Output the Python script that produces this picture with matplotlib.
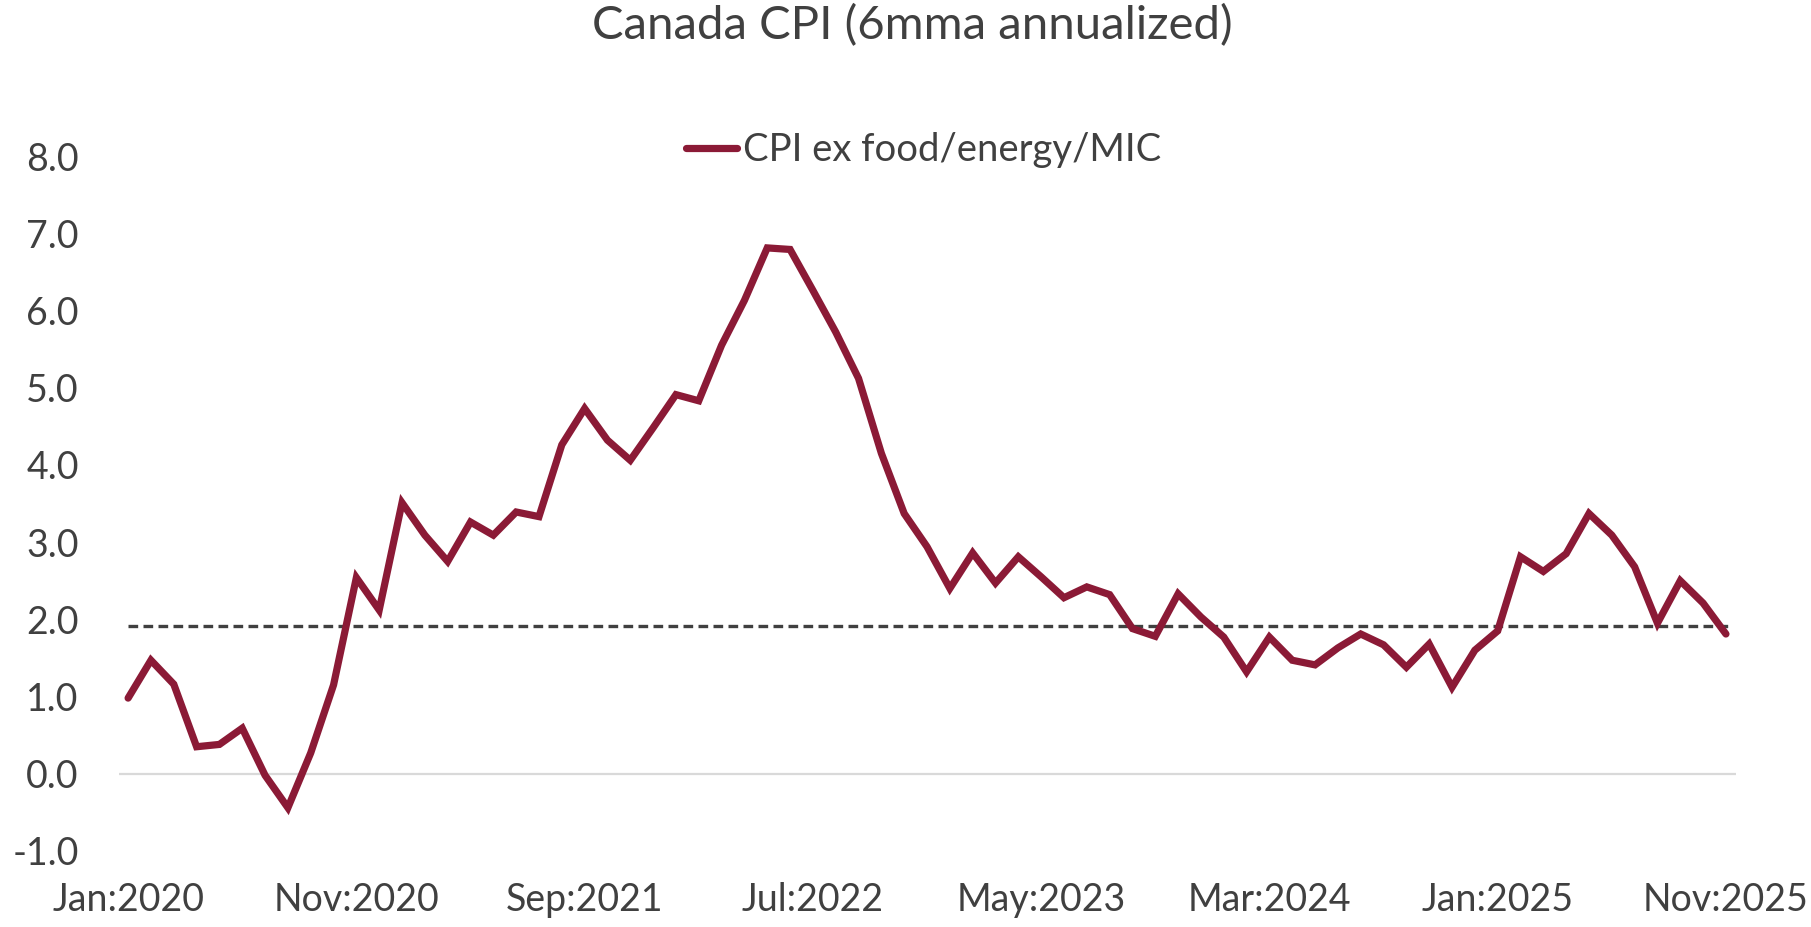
import matplotlib
matplotlib.use("Agg")
import matplotlib.pyplot as plt

# Canada CPI ex food/energy/MIC, 6mma annualized, Jan 2020 - Nov 2025 (monthly)
cpi_ex_fem = [
    0.98, 1.47, 1.16, 0.35, 0.38, 0.59, -0.02, -0.44, 0.27, 1.15,
    2.54, 2.12, 3.51, 3.09, 2.75, 3.26, 3.09, 3.39, 3.33, 4.26,
    4.73, 4.32, 4.06, 4.48, 4.91, 4.83, 5.55, 6.13, 6.81, 6.79,
    6.26, 5.72, 5.12, 4.15, 3.37, 2.94, 2.40, 2.86, 2.47, 2.81,
    2.55, 2.28, 2.42, 2.32, 1.88, 1.78, 2.33, 2.03, 1.77, 1.32,
    1.77, 1.47, 1.41, 1.63, 1.81, 1.67, 1.38, 1.68, 1.12, 1.60,
    1.85, 2.81, 2.62, 2.85, 3.37, 3.09, 2.68, 1.95, 2.50, 2.21,
    1.81,
]
target = 1.91

tick_labels = ["Jan:2020", "Nov:2020", "Sep:2021", "Jul:2022",
               "May:2023", "Mar:2024", "Jan:2025", "Nov:2025"]
tick_step = 10
y_ticks = [-1, 0, 1, 2, 3, 4, 5, 6, 7, 8]

LINE_COLOR = "#8B1A36"
TEXT_COLOR = "#404040"

plt.rcParams["font.family"] = ["Lato", "DejaVu Sans"]

fig = plt.figure(figsize=(18.11, 9.27), dpi=100)
ax = fig.add_axes([0.0657, 0.082, 0.893, 0.7497])

x = list(range(len(cpi_ex_fem)))

# zero axis line
ax.axhline(0, color="#D9D9D9", lw=1.6, zorder=1)

# reference line near 2%
ax.plot([x[0], x[-1] + 0.3], [target, target], color="#404040", lw=2.4,
        linestyle=(0, (2.9, 1.6)), zorder=2)

ax.plot(x, cpi_ex_fem, color=LINE_COLOR, lw=5.2, solid_joinstyle="miter",
        solid_capstyle="round", zorder=3, label="CPI ex food/energy/MIC")

ax.set_xlim(-0.4, len(cpi_ex_fem) - 1 + 0.45)
ax.set_ylim(-1, 8)
ax.set_xticks(range(0, len(cpi_ex_fem), tick_step))
ax.set_xticklabels(tick_labels)
ax.set_yticks(y_ticks)
ax.set_yticklabels([f"{v:.1f}" for v in y_ticks])

ax.tick_params(axis="both", length=0, labelsize=27, colors=TEXT_COLOR)
ax.tick_params(axis="y", pad=29)
ax.tick_params(axis="x", pad=22)
for s in ax.spines.values():
    s.set_visible(False)

fig.text(0.504, 0.972, "Canada CPI (6mma annualized)", ha="center",
         va="center", fontsize=34, color=TEXT_COLOR)

fig.legend(loc="center", bbox_to_anchor=(0.51, 0.838), frameon=False,
           fontsize=27.5, handlelength=1.35, handletextpad=0.15,
           labelcolor=TEXT_COLOR)

fig.savefig("out.png", dpi=100)
